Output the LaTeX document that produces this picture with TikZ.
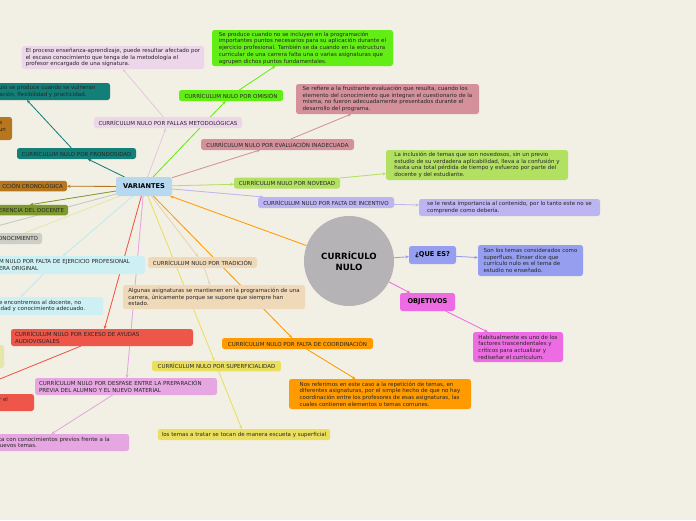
\documentclass[tikz,border=0pt]{standalone}
\usepackage{fontspec}
\setmainfont{DejaVu Sans}
\usetikzlibrary{arrows.meta}
\pgfdeclarelayer{back}
\pgfdeclarelayer{bg}
\pgfsetlayers{back,bg,main}
\definecolor{bgc}{HTML}{F2EFE4}
\definecolor{txt}{HTML}{262626}
\definecolor{lpink}{HTML}{EDD6EA}
\definecolor{lpinkL}{HTML}{E6C8E3}
\definecolor{bgreen}{HTML}{62EE14}
\definecolor{teal}{HTML}{128078}
\definecolor{brown}{HTML}{B6771F}
\definecolor{dpink}{HTML}{D4919B}
\definecolor{lgreen}{HTML}{B2E061}
\definecolor{lav}{HTML}{BDB4F2}
\definecolor{olive}{HTML}{7E9A2E}
\definecolor{gbox}{HTML}{CDCFC6}
\definecolor{gboxL}{HTML}{C6C8BF}
\definecolor{cyan}{HTML}{CCF0F3}
\definecolor{cyanL}{HTML}{BFEAF0}
\definecolor{peach}{HTML}{EFD9B9}
\definecolor{peachL}{HTML}{EAD3B0}
\definecolor{redc}{HTML}{EE5649}
\definecolor{pyg}{HTML}{E5E7A9}
\definecolor{pviol}{HTML}{E6A6E1}
\definecolor{yel}{HTML}{EBDF5E}
\definecolor{orng}{HTML}{FF9B00}
\definecolor{peri}{HTML}{969EF0}
\definecolor{mag}{HTML}{EE6CE3}
\definecolor{lblue}{HTML}{B7D9EF}
\definecolor{cgray}{HTML}{B5B3B6}
\newcommand{\smallfnt}{\fontsize{5.5}{6.7}\selectfont}
\newcommand{\boldfnt}{\fontsize{6.6}{8}\selectfont\bfseries}
\tikzset{
  base/.style={rounded corners=2.5pt, inner xsep=4pt, inner ysep=1pt, outer sep=0pt, text=txt, font=\smallfnt},
  lab/.style={base, minimum height=11pt},
  tb/.style={base, align=left},
  pt/.style={inner sep=0pt, outer sep=0pt, text=txt, font=\smallfnt, align=left},
  big/.style={base, font=\boldfnt, text=black, minimum height=18pt},
  con/.style={line width=0.8pt, -{Stealth[length=3.5pt,width=3pt]}},
}
\begin{document}
\begin{tikzpicture}[x=1pt,y=-1pt]
\useasboundingbox (0,0) rectangle (696,520);
\begin{pgfonlayer}{back}
\fill[bgc] (0,0) rectangle (696,520);
\end{pgfonlayer}

% central
\node[circle, fill=cgray, minimum size=90pt, inner sep=0pt, align=center, font=\fontsize{8.6}{11}\selectfont\bfseries, text=black] (cn) at (349,261) {CURRÍCULO\\NULO};
\node[big, fill=lblue, minimum width=56pt, minimum height=19pt] (var) at (144,186.5) {VARIANTES};

% upper branches
\node[tb, fill=lpink, minimum width=182pt, minimum height=23pt] (t1) at (113,57.5) {El proceso enseñanza-aprendizaje, puede resultar afectado por\\el escaso conocimiento que tenga de la metodología el\\profesor encargado de una signatura.};
\node[lab, fill=lpink, minimum width=148pt] (fallas) at (168,122.5) {CURRÍCULUM NULO POR FALLAS METODOLÓGICAS};

\node[tb, fill=bgreen, minimum width=181pt, minimum height=36pt] (tom) at (302.5,48) {Se produce cuando no se incluyen en la programación\\importantes puntos necesarios para su aplicación durante el\\ejercicio profesional. También se da cuando en la estructura\\curricular de una carrera falta una o varias asignaturas que\\agrupen dichos puntos fundamentales.};
\node[lab, fill=bgreen, minimum width=104pt] (om) at (231,95.5) {CURRÍCULUM NULO POR OMISIÓN};

\node[tb, fill=dpink, minimum width=183pt, minimum height=30pt] (tev) at (387.5,99) {Se refiere a la frustrante evaluación que resulta, cuando los\\elemento del conocimiento que integran el cuestionario de la\\misma, no fueron adecuadamente presentados durante el\\desarrollo del programa.};
\node[lab, fill=dpink, minimum width=153pt] (ev) at (277.5,144.5) {CURRÍCULUM NULO POR EVALUACIÓN INADECUADA};

\node[tb, fill=lgreen, minimum width=182pt, minimum height=30pt] (tnov) at (477,165) {La inclusión de temas que son novedosos, sin un previo\\estudio de su verdadera aplicabilidad, lleva a la confusión y\\hasta una total pérdida de tiempo y esfuerzo por parte del\\docente y del estudiante.};
\node[lab, fill=lgreen, minimum width=106pt] (nov) at (287,183) {CURRÍCULUM NULO POR NOVEDAD};

\node[tb, fill=lav, minimum width=181pt, minimum height=17pt] (tinc) at (509.5,207.5) {se le resta importancia al contenido, por lo tanto este no se\\comprende como debería.};
\node[lab, fill=lav, minimum width=136pt] (inc) at (326,202.5) {CURRÍCULUM NULO POR FALTA DE INCENTIVO};

% left branches (partly outside)
\node[base, fill=teal, minimum width=182pt, minimum height=17pt] (tfr) at (19,91.5) {};
\node[pt, anchor=west] (tfrx) at (-1,91.5) {ulo se produce cuando se vulneran\\ación, flexibilidad y practicidad.};
\node[lab, fill=teal, minimum width=119pt] (fr) at (76.5,153.5) {CURRÍCULUM NULO POR FRONDOSIDAD};

\node[base, fill=brown, minimum width=182pt, minimum height=23pt] (bp) at (-79,128.5) {};
\node[pt, anchor=west] (bpx) at (-1,126.5) {e\\un};

\node[base, fill=brown, minimum width=167pt, minimum height=10.5pt] (cro) at (-16.5,186) {};
\node[pt, anchor=east] (crox) at (63,186) {CCIÓN CRONOLÓGICA};

\node[base, fill=olive, minimum width=142pt, minimum height=10.5pt] (doc) at (-3,210) {};
\node[pt, anchor=east] (docx) at (64,210) {ERENCIA DEL DOCENTE};

\node[base, fill=gbox, minimum width=182pt, minimum height=11pt] (con) at (-49,238.5) {};
\node[pt, anchor=east] (conx) at (38,238.5) {ONOCIMIENTO};

\node[base, fill=cyan, minimum width=185pt, minimum height=18pt] (ej) at (52.5,265) {};
\node[pt, anchor=west] (ejx) at (-1,265) {M NULO POR FALTA DE EJERCICIO PROFESIONAL\\ERA ORIGINAL};

\node[base, fill=cyan, minimum width=183pt, minimum height=18pt] (tej) at (11.5,306) {};
\node[pt, anchor=west] (tejx) at (-1,306) {e encontremos al docente, no\\idad y conocimiento adecuado.};

\node[base, fill=pyg, minimum width=174pt, minimum height=23pt] (pg) at (-83,356.5) {};

\node[tb, fill=redc, text width=174pt, minimum height=17pt] (exc) at (102,337.5) {CURRÍCULUM NULO POR EXCESO DE AYUDAS\\AUDIOVISUALES};
\node[base, fill=redc, minimum width=184pt, minimum height=17pt] (rp) at (-58,402.5) {};
\node[pt, anchor=west] (rpx) at (-1,399.5) {r el};

\node[tb, fill=pviol, text width=174pt, minimum height=17pt] (des) at (126,386.5) {CURRÍCULUM NULO POR DESFASE ENTRE LA PREPARACIÓN\\PREVIA DEL ALUMNO Y EL NUEVO MATERIAL};
\node[base, fill=pviol, minimum width=182pt, minimum height=17pt] (pp) at (38,442.5) {};
\node[pt, anchor=west] (ppx) at (-1,442.5) {ta con conocimientos previos frente a la\\\hspace*{1pt}uevos temas.};

% lower branches
\node[lab, fill=peach, minimum width=109pt] (tra) at (202.5,262.5) {CURRÍCULUM NULO POR TRADICIÓN};
\node[tb, fill=peach, minimum width=182pt, minimum height=24pt] (ttra) at (214,297) {Algunas asignaturas se mantienen en la programación de una\\carrera, únicamente porque se supone que siempre han\\estado.};

\node[lab, fill=yel, minimum width=129pt, minimum height=10.5pt] (sup) at (216.5,366) {CURRÍCULUM NULO POR SUPERFICIALIDAD};
\node[lab, fill=yel, minimum width=172pt] (tsup) at (244,434.5) {los temas a tratar se tocan de manera escueta y superficial};

\node[lab, fill=orng, minimum width=151pt] (coo) at (297.5,343.5) {CURRÍCULUM NULO POR FALTA DE COORDINACIÓN};
\node[tb, fill=orng, minimum width=182pt, minimum height=30pt] (tcoo) at (380,394) {Nos referimos en este caso a la repetición de temas, en\\diferentes asignaturas, por el simple hecho de que no hay\\coordinación entre los profesores de esas asignaturas, las\\cuales contienen elementos o temas comunes.};

% right side
\node[big, fill=peri, minimum width=47pt] (que) at (432.5,255) {¿QUE ES?};
\node[tb, fill=peri, minimum width=105pt, minimum height=31pt] (tque) at (530.5,260.5) {Son los temas considerados como\\superfluos. Einser dice que\\currículo nulo es el tema de\\estudio no enseñado.};
\node[big, fill=mag, minimum width=55pt] (obj) at (427.5,302) {OBJETIVOS};
\node[tb, fill=mag, minimum width=90pt, minimum height=30pt] (tobj) at (518,347) {Habitualmente es uno de los\\factores trascendentales y\\críticos para actualizar y\\rediseñar el currículum.};

\coordinate (paleEnd) at (-60,266);

\begin{pgfonlayer}{bg}
\draw[con, draw=orng, fill=orng] (cn) -- (var);
\draw[con, draw=peri, fill=peri] (cn) -- (que);
\draw[con, draw=peri, fill=peri] (que) -- (tque);
\draw[con, draw=mag, fill=mag] (cn) -- (obj);
\draw[con, draw=mag, fill=mag] (obj) -- (tobj);

\draw[con, draw=lpinkL, fill=lpinkL] (var) -- (fallas);
\draw[con, draw=lpinkL, fill=lpinkL] (fallas) -- (t1);
\draw[con, draw=bgreen, fill=bgreen] (var) -- (om);
\draw[con, draw=bgreen, fill=bgreen] (om) -- (tom);
\draw[con, draw=dpink, fill=dpink] (var) -- (ev);
\draw[con, draw=dpink, fill=dpink] (ev) -- (tev);
\draw[con, draw=lgreen, fill=lgreen] (var) -- (nov);
\draw[con, draw=lgreen, fill=lgreen] (nov) -- (tnov);
\draw[con, draw=lav, fill=lav] (var) -- (inc);
\draw[con, draw=lav, fill=lav] (inc) -- (tinc);

\draw[con, draw=teal, fill=teal] (var) -- (fr);
\draw[con, draw=teal, fill=teal] (fr) -- (tfr);
\draw[con, draw=brown, fill=brown] (var) -- (cro);
\draw[con, draw=olive, fill=olive] (var) -- (doc);
\draw[con, draw=gboxL, fill=gboxL] (var) -- (con);
\draw[line width=0.8pt, draw=pyg] (var) -- (paleEnd);
\draw[con, draw=cyanL, fill=cyanL] (var) -- (ej);
\draw[con, draw=cyanL, fill=cyanL] (ej) -- (tej);
\draw[con, draw=redc, fill=redc] (var) -- (exc);
\draw[con, draw=redc, fill=redc] (exc) -- (rp);
\draw[con, draw=pviol, fill=pviol] (var) -- (des);
\draw[con, draw=pviol, fill=pviol] (des) -- (pp);

\draw[con, draw=peachL, fill=peachL] (var) -- (tra);
\draw[con, draw=peachL, fill=peachL] (tra) -- (ttra);
\draw[con, draw=yel, fill=yel] (var) -- (sup);
\draw[con, draw=yel, fill=yel] (sup) -- (tsup);
\draw[con, draw=orng, fill=orng] (var) -- (coo);
\draw[con, draw=orng, fill=orng] (coo) -- (tcoo);
\end{pgfonlayer}
\end{tikzpicture}
\end{document}
